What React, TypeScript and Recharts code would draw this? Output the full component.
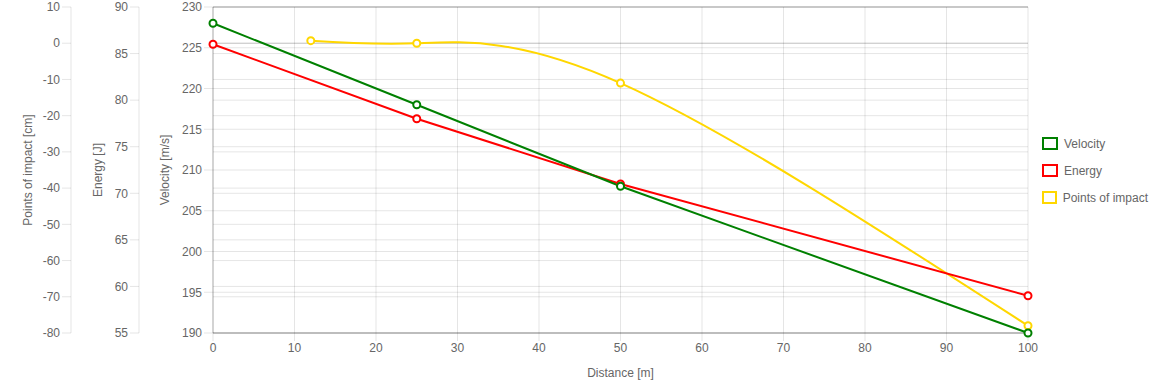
import {
  CartesianGrid,
  Legend,
  Line,
  LineChart,
  ReferenceLine,
  XAxis,
  YAxis,
} from "recharts";

// Distances where at least one series has a reading.
const distance = [0, 12, 25, 50, 100];
const velocity = [228, null, 218, 208, 190];
const energy = [86, null, 78, 71, 59];
const impact = [null, 0.7, 0, -11, -78];

const distanceTicks = [0, 10, 20, 30, 40, 50, 60, 70, 80, 90, 100];
const velocityTicks = [190, 195, 200, 205, 210, 215, 220, 225, 230];
const energyTicks = [55, 60, 65, 70, 75, 80, 85, 90];
const impactTicks = [-80, -70, -60, -50, -40, -30, -20, -10, 0, 10];

const SERIES = [
  { key: "velocity", name: "Velocity", color: "#008000" },
  { key: "energy", name: "Energy", color: "#ff0000" },
  { key: "impact", name: "Points of impact", color: "#ffd700" },
];

const rows = distance.map((d, i) => ({
  distance: d,
  velocity: velocity[i],
  energy: energy[i],
  impact: impact[i],
}));

// Left axes are stacked by id order: the first id sits next to the plot.
const V_AXIS = "a-velocity";
const E_AXIS = "b-energy";
const I_AXIS = "c-impact";

const TEXT = "#666";
const GRID = "rgba(0,0,0,0.1)";
const ZERO = "rgba(0,0,0,0.25)";
const TICK = { fontSize: 12, fill: TEXT };

// Rotated axis title centred in the axis box, nudged left by `shift`.
function YTitle({ viewBox, text, shift = 0 }: any) {
  const cx = viewBox.x + viewBox.width / 2 + shift;
  const cy = viewBox.y + viewBox.height / 2;
  return (
    <text
      x={cx}
      y={cy}
      transform={`rotate(-90 ${cx} ${cy})`}
      textAnchor="middle"
      dominantBaseline="central"
      fill={TEXT}
      fontSize={12}
    >
      {text}
    </text>
  );
}

function XTitle({ viewBox, text }: any) {
  return (
    <text
      x={viewBox.x + viewBox.width / 2}
      y={viewBox.y + 40}
      textAnchor="middle"
      dominantBaseline="central"
      fill={TEXT}
      fontSize={12}
    >
      {text}
    </text>
  );
}

function LegendBox() {
  return (
    <div style={{ paddingLeft: 14 }}>
      {SERIES.map((s) => (
        <div
          key={s.key}
          style={{ height: 27, display: "flex", alignItems: "center", whiteSpace: "nowrap" }}
        >
          <span
            style={{
              display: "inline-block",
              width: 12,
              height: 9,
              border: `2px solid ${s.color}`,
              background: "#fff",
            }}
          />
          <span style={{ marginLeft: 6, fontSize: 12, color: TEXT }}>{s.name}</span>
        </div>
      ))}
    </div>
  );
}

const dot = (color: string) => ({ r: 3.5, stroke: color, strokeWidth: 2, fill: "#fff" });

export default function App() {
  return (
    <div
      style={{
        position: "absolute",
        left: 0,
        top: 0,
        fontFamily: '"Helvetica Neue", Helvetica, Arial, "Liberation Sans", sans-serif',
      }}
    >
      <LineChart
        width={1160}
        height={386}
        data={rows}
        margin={{ top: 7, right: 12, bottom: 0, left: 0 }}
      >
        <CartesianGrid horizontal={false} stroke={GRID} />
        <XAxis
          dataKey="distance"
          type="number"
          domain={[0, 100]}
          ticks={distanceTicks}
          interval={0}
          height={53}
          tick={TICK}
          tickSize={8}
          tickMargin={2}
          tickLine={{ stroke: GRID }}
          axisLine={{ stroke: ZERO }}
          label={<XTitle text="Distance [m]" />}
        />
        <YAxis
          yAxisId={V_AXIS}
          domain={[190, 230]}
          ticks={velocityTicks}
          interval={0}
          width={74}
          tick={TICK}
          tickSize={9}
          tickMargin={2}
          tickLine={{ stroke: GRID }}
          axisLine={{ stroke: ZERO }}
          label={<YTitle text="Velocity [m/s]" shift={-11} />}
        />
        <YAxis
          yAxisId={E_AXIS}
          domain={[55, 90]}
          ticks={energyTicks}
          interval={0}
          width={68}
          tick={TICK}
          tickSize={9}
          tickMargin={2}
          tickLine={{ stroke: GRID }}
          axisLine={{ stroke: GRID }}
          label={<YTitle text="Energy [J]" shift={-7} />}
        />
        <YAxis
          yAxisId={I_AXIS}
          domain={[-80, 10]}
          ticks={impactTicks}
          interval={0}
          width={71}
          tick={TICK}
          tickSize={9}
          tickMargin={2}
          tickLine={{ stroke: GRID }}
          axisLine={{ stroke: GRID }}
          label={<YTitle text="Points of impact [cm]" shift={-8} />}
        />
        {velocityTicks.map((v, i) => (
          <ReferenceLine
            key={`v${v}`}
            yAxisId={V_AXIS}
            y={v}
            stroke={i === velocityTicks.length - 1 ? ZERO : GRID}
          />
        ))}
        {energyTicks.map((v) => (
          <ReferenceLine key={`e${v}`} yAxisId={E_AXIS} y={v} stroke={GRID} />
        ))}
        {impactTicks.map((v) => (
          <ReferenceLine key={`i${v}`} yAxisId={I_AXIS} y={v} stroke={v === 0 ? ZERO : GRID} />
        ))}
        <Legend
          layout="vertical"
          align="right"
          verticalAlign="middle"
          width={120}
          wrapperStyle={{ top: 130 }}
          content={() => <LegendBox />}
        />
        <Line
          yAxisId={I_AXIS}
          dataKey="impact"
          name="Points of impact"
          type="natural"
          stroke="#ffd700"
          strokeWidth={2}
          dot={dot("#ffd700")}
          connectNulls
          isAnimationActive={false}
        />
        <Line
          yAxisId={E_AXIS}
          dataKey="energy"
          name="Energy"
          type="linear"
          stroke="#ff0000"
          strokeWidth={2}
          dot={dot("#ff0000")}
          connectNulls
          isAnimationActive={false}
        />
        <Line
          yAxisId={V_AXIS}
          dataKey="velocity"
          name="Velocity"
          type="linear"
          stroke="#008000"
          strokeWidth={2}
          dot={dot("#008000")}
          connectNulls
          isAnimationActive={false}
        />
      </LineChart>
    </div>
  );
}
